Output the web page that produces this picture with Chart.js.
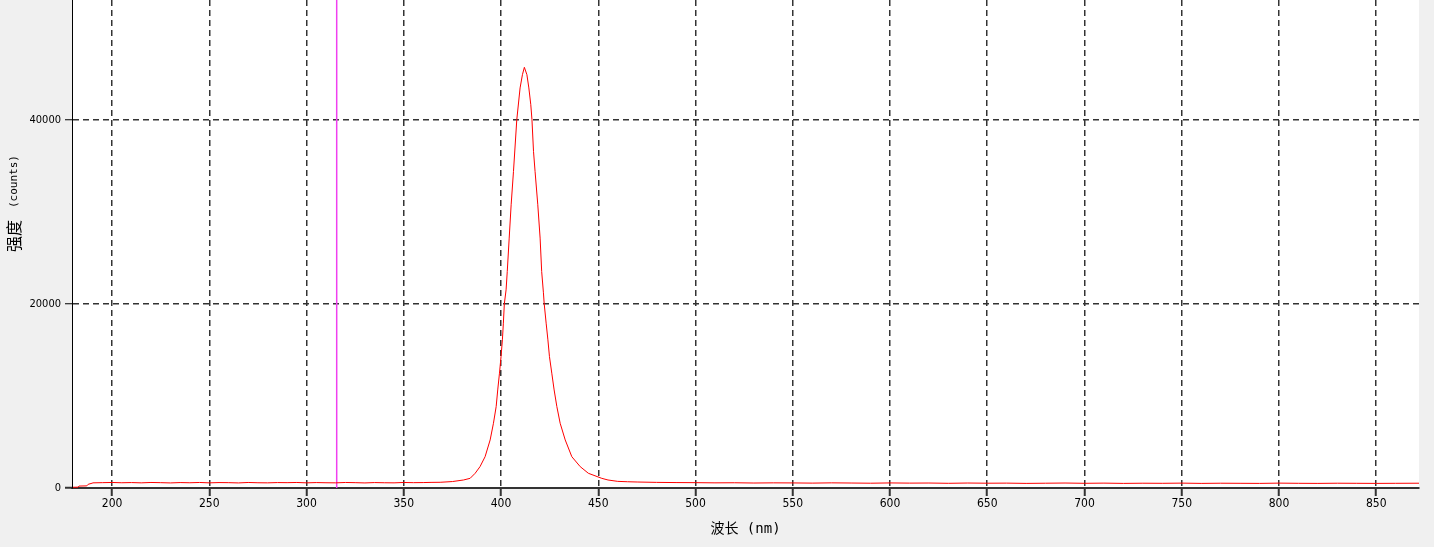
<!DOCTYPE html>
<html>
<head>
<meta charset="utf-8">
<script src="https://cdn.jsdelivr.net/npm/chart.js@4/dist/chart.umd.min.js"></script>
<style>
html,body{margin:0;padding:0;background:#f0f0f0;}
#wrap{width:1434px;height:547px;}
</style>
</head>
<body>
<div id="wrap"><canvas id="spectrumChart" width="1434" height="547"></canvas></div>
<script>

let wavelengths=[
179.9,182.5,183.0,187.0,187.7,189.7,190.2,195,200,205,210,215,220,225,230,235,240,245,250,255,260,265,270,275,280,285,290,295,300,305,310,315,320,325,330,335,340,345,350,355,360,364,368.7,375,380.7,384.1,386.7,389.2,391.8,394.4,396.1,397.5,398.3,399.2,400.0,400.7,401.2,401.7,402.6,403.2,404.2,405.2,406.4,408.1,409.8,411.0,412.0,413.3,414.3,415.3,415.9,416.7,417.5,418.9,420.1,420.9,421.8,422.2,423.2,424.1,424.9,426.1,427.3,428.7,430.4,433.0,436.4,440.7,444.9,451.8,455,460,465,470,480,490,500,510,520,530,540,550,560,570,580,590,600,610,620,630,640,650,660,670,680,690,700,710,720,730,740,750,760,770,780,790,800,810,820,830,840,850,860,872
];

let counts=[
80,90,210,230,400,520,560,580,600,570,590,560,600,580,550,590,570,600,560,590,580,550,600,570,560,590,580,600,560,590,570,560,600,580,550,590,570,560,600,580,590,610,620,700,870,1050,1600,2320,3400,5220,7030,8840,10650,12470,14270,16090,17900,20000,21520,23510,27140,30760,34380,40000,43450,44890,45690,44890,43450,41630,40000,36560,34380,30760,27140,23510,21200,20000,17900,16090,14270,12470,10650,8840,7030,5220,3400,2320,1600,1050,870,720,680,650,610,590,580,560,570,540,560,550,530,560,540,520,550,530,540,510,540,520,530,500,520,540,510,530,500,520,510,530,500,520,510,500,530,510,500,520,510,500,510,520
];

let markerLine=[315.5,315.5];
let markerRange=[0,53000];

let xTicks=[200,250,300,350,400,450,500,550,600,650,700,750,800,850];
let yTicks=[0,20000,40000];

let spectrumPoints=wavelengths.map((w,i)=>({x:w,y:counts[i]}));
let markerPoints=markerLine.map((w,i)=>({x:w,y:markerRange[i]}));

const plotBackground={
id:"plotBackground",
beforeDraw(chart){
let ctx=chart.ctx;
let a=chart.chartArea;
ctx.save();
ctx.fillStyle="#ffffff";
ctx.fillRect(a.left,a.top,a.right-a.left,a.bottom-a.top);
ctx.restore();
}
};

const yTitle={
id:"yTitle",
afterDraw(chart){
let ctx=chart.ctx;
ctx.save();
ctx.translate(14,252);
ctx.rotate(-Math.PI/2);
ctx.fillStyle="#000";
ctx.textBaseline="middle";
ctx.textAlign="left";
ctx.font="16px 'Noto Sans CJK SC'";
ctx.fillText("强度",0,0);
ctx.font="11px 'DejaVu Sans Mono'";
ctx.fillText("(counts)",44,0);
ctx.restore();
}
};

let ctx=document.getElementById("spectrumChart");

new Chart(ctx,{
type:"line",
data:{
datasets:[
{
label:"spectrum",
data:spectrumPoints,
borderColor:"#ff0000",
borderWidth:1,
pointRadius:0,
tension:0,
fill:false
},
{
label:"marker",
data:markerPoints,
borderColor:"#f040f0",
borderWidth:1.5,
pointRadius:0,
fill:false
}
]
},
options:{
responsive:false,
animation:false,
layout:{padding:{left:0,right:15,top:0,bottom:0}},
plugins:{
legend:{display:false},
tooltip:{enabled:false}
},
scales:{
x:{
type:"linear",
min:179.4,
max:872,
afterBuildTicks:scale=>{scale.ticks=xTicks.map(v=>({value:v}));},
afterFit:scale=>{scale.height=59;scale.paddingLeft=0;scale.paddingRight=0;},
ticks:{
color:"#000",
padding:1,
maxRotation:0,
autoSkip:false,
callback:v=>String(v),
font:{family:"'Liberation Sans Narrow','DejaVu Sans Condensed'",size:12}
},
grid:{
color:"#333",
lineWidth:1.5,
tickLength:8,
tickColor:"#333",
tickWidth:2
},
border:{color:"#333",width:2,dash:[6,4]},
title:{
display:true,
text:"波长 (nm)",
color:"#000",
padding:{top:2,bottom:9},
font:{family:"'DejaVu Sans Mono','Noto Sans CJK SC'",size:14,weight:"normal"}
}
},
y:{
min:0,
max:53000,
afterBuildTicks:scale=>{scale.ticks=yTicks.map(v=>({value:v}));},
afterFit:scale=>{scale.width=72;scale.paddingTop=0;scale.paddingBottom=0;},
ticks:{
color:"#000",
padding:4,
callback:v=>String(v),
font:{family:"'Liberation Sans Narrow','DejaVu Sans Condensed'",size:11}
},
grid:{
color:c=>c.tick&&c.tick.value===0?"rgba(0,0,0,0)":"#333",
lineWidth:1.5,
tickLength:7,
tickColor:c=>c.tick&&c.tick.value===0?"#333":"#000",
tickWidth:c=>c.tick&&c.tick.value===0?2:1
},
border:{color:"#000",width:1,dash:[6,4]}
}
}
},
plugins:[plotBackground,yTitle]
});

</script>
</body>
</html>
